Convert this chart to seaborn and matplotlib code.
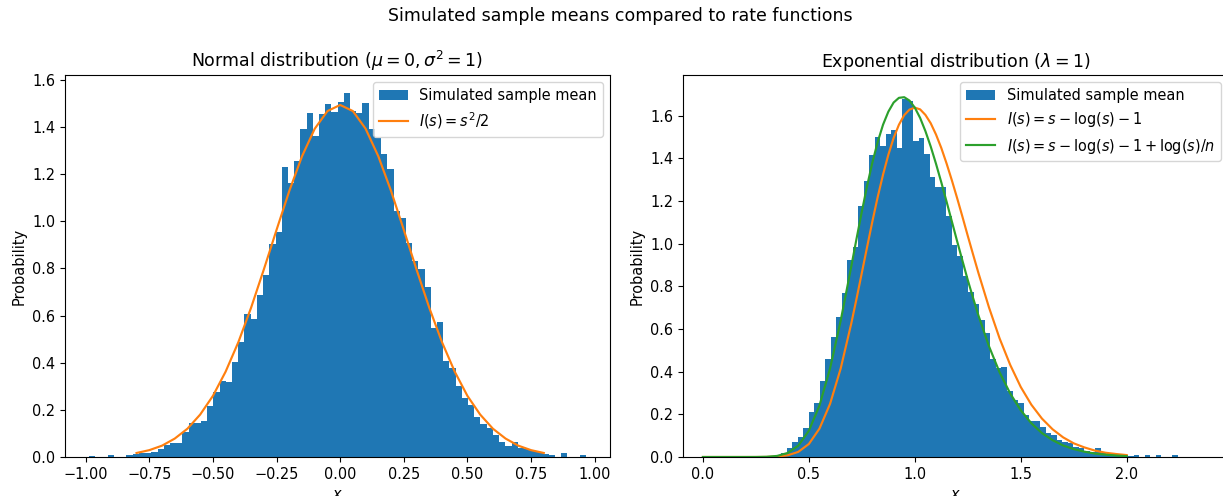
import numpy as np
import pandas as pd
import matplotlib
matplotlib.use("Agg")
import matplotlib.pyplot as plt
import seaborn as sns

# --- normal case: histogram of simulated sample means (80 bins) ---
norm_bin_start = -0.986
norm_bin_width = 0.0244
norm_heights = [
    0.006, 0, 0, 0.008, 0, 0, 0.008, 0.013, 0.016, 0.018,
    0.020, 0.033, 0.050, 0.058, 0.058, 0.108, 0.143, 0.143, 0.154, 0.217,
    0.275, 0.323, 0.318, 0.405, 0.486, 0.607, 0.587, 0.688, 0.773, 0.904,
    0.953, 1.230, 1.162, 1.257, 1.389, 1.459, 1.363, 1.456, 1.495, 1.464,
    1.505, 1.544, 1.466, 1.460, 1.502, 1.391, 1.353, 1.287, 1.222, 1.042,
    1.013, 0.907, 0.832, 0.798, 0.720, 0.546, 0.572, 0.405, 0.376, 0.301,
    0.249, 0.221, 0.168, 0.139, 0.122, 0.093, 0.065, 0.048, 0.065, 0.037,
    0.033, 0.027, 0.020, 0.013, 0.010, 0, 0.016, 0, 0, 0.008,
]
norm_s = [-0.80, -0.75, -0.70, -0.65, -0.60, -0.55, -0.50, -0.45, -0.40, -0.35,
          -0.30, -0.25, -0.20, -0.15, -0.10, -0.05, 0.00, 0.05, 0.10, 0.15,
          0.20, 0.25, 0.30, 0.35, 0.40, 0.45, 0.50, 0.55, 0.60, 0.65,
          0.70, 0.75, 0.80]
norm_rate = [0.017, 0.029, 0.048, 0.078, 0.120, 0.180, 0.259, 0.362, 0.487, 0.633,
             0.795, 0.963, 1.128, 1.275, 1.392, 1.467, 1.493, 1.467, 1.392, 1.275,
             1.128, 0.963, 0.795, 0.633, 0.487, 0.362, 0.259, 0.180, 0.120, 0.078,
             0.048, 0.029, 0.017]

# --- exponential case ---
exp_bin_start = 0.291
exp_bin_width = 0.026
exp_heights = [
    0.003, 0.005, 0.010, 0.017, 0.044, 0.072, 0.095, 0.134, 0.209, 0.255,
    0.356, 0.458, 0.564, 0.655, 0.767, 0.923, 0.986, 1.177, 1.291, 1.416,
    1.498, 1.458, 1.514, 1.530, 1.447, 1.678, 1.670, 1.481, 1.494, 1.420,
    1.311, 1.267, 1.267, 1.127, 0.994, 0.942, 0.848, 0.775, 0.717, 0.642,
    0.580, 0.460, 0.415, 0.420, 0.310, 0.267, 0.255, 0.197, 0.170, 0.170,
    0.142, 0.114, 0.103, 0.080, 0.072, 0.064, 0.048, 0.040, 0.030, 0.023,
    0.040, 0.017, 0.014, 0.012, 0.010, 0.008, 0.006, 0.008, 0, 0.008,
    0, 0.008, 0, 0, 0.008,
]
exp_s = [0.00, 0.05, 0.10, 0.15, 0.20, 0.25, 0.30, 0.35, 0.40, 0.45,
         0.50, 0.55, 0.60, 0.65, 0.70, 0.725, 0.75, 0.775, 0.80, 0.825,
         0.85, 0.875, 0.90, 0.925, 0.95, 0.975, 1.00, 1.025, 1.05, 1.075,
         1.10, 1.125, 1.15, 1.175, 1.20, 1.225, 1.25, 1.275, 1.30, 1.35,
         1.40, 1.45, 1.50, 1.55, 1.60, 1.65, 1.70, 1.75, 1.80, 1.85,
         1.90, 1.95, 2.00]
exp_rate = [0, 0, 0, 0, 0, 0, 0.0003, 0.002, 0.008, 0.024,
            0.061, 0.133, 0.249, 0.414, 0.625, 0.742, 0.863, 0.985, 1.105, 1.219,
            1.323, 1.416, 1.495, 1.557, 1.602, 1.628, 1.637, 1.629, 1.603, 1.564,
            1.511, 1.448, 1.375, 1.296, 1.212, 1.125, 1.036, 0.949, 0.863, 0.701,
            0.556, 0.432, 0.328, 0.245, 0.180, 0.130, 0.092, 0.064, 0.045, 0.030,
            0.020, 0.014, 0.009]
exp_rate_corr = [0, 0, 0, 0, 0, 0.0001, 0.001, 0.005, 0.019, 0.053,
                 0.123, 0.241, 0.415, 0.638, 0.892, 1.023, 1.150, 1.271, 1.381, 1.477,
                 1.557, 1.618, 1.661, 1.683, 1.686, 1.670, 1.637, 1.589, 1.527, 1.455,
                 1.374, 1.287, 1.196, 1.103, 1.010, 0.919, 0.829, 0.745, 0.664, 0.519,
                 0.397, 0.298, 0.219, 0.158, 0.112, 0.079, 0.054, 0.037, 0.025, 0.016,
                 0.011, 0.007, 0.004]


def hist_frame(start, width, heights):
    edges = start + width * np.arange(len(heights) + 1)
    df = pd.DataFrame({"s": (edges[:-1] + edges[1:]) / 2, "w": heights})
    return df, [float(e) for e in edges]


plt.rcParams["font.size"] = 10.45
plt.rcParams["lines.linewidth"] = 1.55

fig = plt.figure(figsize=(12.23, 4.96), dpi=100)
ax1 = fig.add_axes([65 / 1223, 39 / 496, 545 / 1223, 382 / 496])
# the right panel runs slightly past the picture's right edge, as in the original
ax2 = fig.add_axes([683 / 1223, 39 / 496, 545 / 1223, 382 / 496])

# normal distribution panel
df1, e1 = hist_frame(norm_bin_start, norm_bin_width, norm_heights)
sns.histplot(data=df1, x="s", weights="w", bins=e1, ax=ax1,
             color="C0", alpha=1, linewidth=0, label="Simulated sample mean")
sns.lineplot(x=norm_s, y=norm_rate, ax=ax1, color="C1", label=r"$I(s) = s^2/2$")
ax1.set_xlim(-1.081, 1.060)
ax1.set_ylim(0, 1.62)
ax1.set_title(r"Normal distribution ($\mu = 0, \sigma^2 = 1$)", fontsize=12.5)

# exponential distribution panel
df2, e2 = hist_frame(exp_bin_start, exp_bin_width, exp_heights)
sns.histplot(data=df2, x="s", weights="w", bins=e2, ax=ax2,
             color="C0", alpha=1, linewidth=0, label="Simulated sample mean")
sns.lineplot(x=exp_s, y=exp_rate, ax=ax2, color="C1", label=r"$I(s) = s - \log(s) - 1$")
sns.lineplot(x=exp_s, y=exp_rate_corr, ax=ax2, color="C2",
             label=r"$I(s) = s - \log(s) - 1 + \log(s)/n$")
ax2.set_xlim(-0.094, 2.478)
ax2.set_ylim(0, 1.79)
ax2.set_title(r"Exponential distribution ($\lambda = 1$)", fontsize=12.5)

for ax in (ax1, ax2):
    ax.set_xlabel("$x$")
    ax.set_ylabel("Probability")
    h, l = ax.get_legend_handles_labels()
    h = h[-1:] + h[:-1]
    l = l[-1:] + l[:-1]
    ax.legend(h, l, loc="upper right")

fig.suptitle("Simulated sample means compared to rate functions", fontsize=12.5,
             x=620 / 1223, y=0.985)
fig.savefig("out.png", dpi=100)
